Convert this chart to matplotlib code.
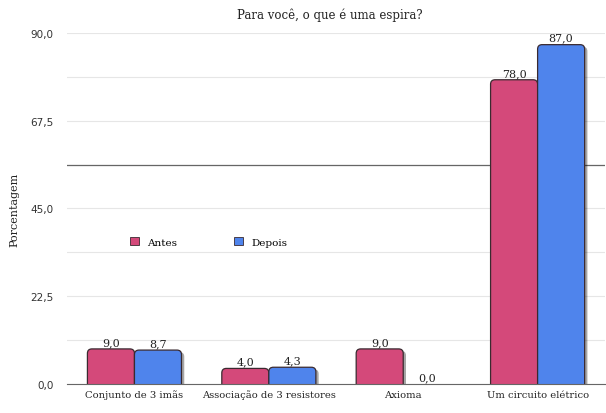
import numpy as np
import matplotlib.pyplot as plt
import matplotlib.patheffects as pe
from matplotlib.patches import FancyBboxPatch

categories = ['Conjunto de 3 imãs', 'Associação de 3 resistores', 'Axioma', 'Um circuito elétrico']
antes = [9.0, 4.0, 9.0, 78.0]
depois = [8.7, 4.3, 0.0, 87.0]
yticks = [0.0, 22.5, 45.0, 67.5, 90.0]

pink = '#D4497A'
blue = '#4F84EC'
serif = 'DejaVu Serif'

fig = plt.figure(figsize=(6.06, 4.14), dpi=100)
ax = fig.add_axes([0.111, 0.07, 0.887, 0.848])

x = np.arange(len(categories))
w = 0.35
# pixel scale of data units, used to keep the corner radius round
px_x = 538 / 4.0
px_y = 351 / 90.0
aspect = px_x / px_y
rad = 4.5 / px_x
shadow = [pe.SimplePatchShadow(offset=(2, -1.5), shadow_rgbFace='k', alpha=0.35), pe.Normal()]


def rounded_bar(ax, x0, h, color):
    if h <= 0:
        return
    below = rad * aspect
    p = FancyBboxPatch((x0, -below), w, h + below,
                       boxstyle='round,pad=0,rounding_size=%f' % rad,
                       mutation_aspect=aspect,
                       facecolor=color, edgecolor='#3a2a30', linewidth=0.9, zorder=3)
    p.set_path_effects(shadow)
    ax.add_patch(p)


# invisible bars to set up the scale
ax.bar(x - w / 2, antes, w, color=pink, alpha=0)
ax.bar(x + w / 2, depois, w, color=blue, alpha=0)
for i in range(len(categories)):
    rounded_bar(ax, x[i] - w, antes[i], pink)
    rounded_bar(ax, x[i], depois[i], blue)
    ax.text(x[i] - w / 2, antes[i] + 0.5, ('%.1f' % antes[i]).replace('.', ','),
            ha='center', va='bottom', fontsize=8, family=serif, color='#222222')
    ax.text(x[i] + w / 2, depois[i] + 0.5, ('%.1f' % depois[i]).replace('.', ','),
            ha='center', va='bottom', fontsize=8, family=serif, color='#222222')

ax.set_xlim(-0.5, 3.5)
ax.set_ylim(0, 90)
ax.set_yticks(yticks)
ax.set_yticklabels([('%.1f' % v).replace('.', ',') for v in yticks], fontsize=7.5, color='#333333')
ax.set_yticks(np.arange(0, 90.1, 11.25), minor=True)
ax.tick_params(axis='y', which='both', length=0, pad=10)
ax.tick_params(axis='x', length=0, pad=4)
ax.set_xticks(x)
ax.set_xticklabels(categories, fontsize=7.2, family=serif, color='#222222')
ax.grid(axis='y', which='both', color='#e6e6e6', linewidth=0.8, zorder=0)
ax.axhline(56.25, color='#666666', linewidth=0.9, zorder=1)
for s in ['top', 'right', 'left']:
    ax.spines[s].set_visible(False)
ax.spines['bottom'].set_color('#666666')
ax.spines['bottom'].set_zorder(4)
ax.set_axisbelow(True)

ax.set_ylabel('Porcentagem', fontsize=8, family=serif, color='#222222', labelpad=8)
fig.text(0.545, 0.962, 'Para você, o que é uma espira?', ha='center', va='center',
         fontsize=8.5, family=serif, color='#222222')

h1 = plt.Rectangle((0, 0), 1, 1, facecolor=pink, edgecolor='#3a2a30', linewidth=0.6)
h2 = plt.Rectangle((0, 0), 1, 1, facecolor=blue, edgecolor='#3a2a30', linewidth=0.6)
ax.legend([h1, h2], ['Antes', 'Depois'], loc='center left', bbox_to_anchor=(0.1, 0.405),
          ncol=2, frameon=False, prop={'family': serif, 'size': 7.5},
          handlelength=0.8, handleheight=0.8, columnspacing=5.5, handletextpad=0.8)

fig.savefig('out.png', dpi=100)
